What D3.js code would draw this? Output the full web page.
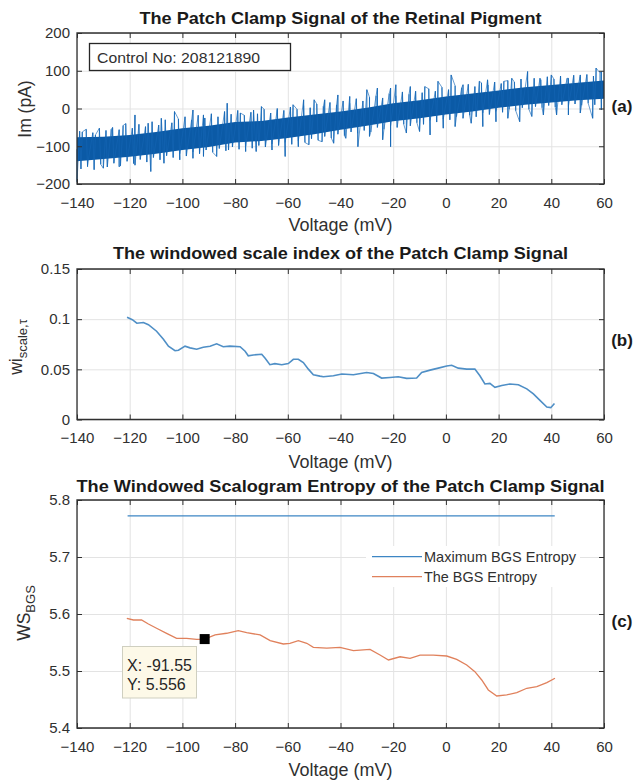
<!DOCTYPE html>
<html>
<head>
<meta charset="utf-8">
<script src="https://cdn.jsdelivr.net/npm/d3@7"></script>
<style>
  body { margin: 0; background: #fff; }
  text { font-family: "Liberation Sans", Arial, Helvetica, sans-serif; }
</style>
</head>
<body>
<script>
// Datos
const voltageTicks = [-140, -120, -100, -80, -60, -40, -20, 0, 20, 40, 60];

// (a) señal de patch clamp: banda densa y picos visibles
const coreVoltage = [-140, -130, -120, -110, -100, -90, -80, -70, -60, -50, -40, -30, -20, -10, 0, 10, 20, 30, 40, 50, 60];
const coreTop = [-76, -75, -70, -62, -52, -46, -36, -33, -24, -16, -8, 2, 14, 22, 32, 40, 48, 56, 62, 68, 74];
const coreBottom = [-140, -134, -128, -120, -110, -102, -90, -86, -78, -68, -56, -46, -34, -26, -16, -8, 2, 10, 16, 22, 26];
const upVoltage = [-138, -133, -127, -122.5, -118, -113, -108, -103, -96, -92, -83, -78, -73, -70, -64, -58, -54, -50, -46, -41, -36.5, -30, -26, -21, -19, -13.5, -8, -3, 2, 6.5, 12.7, 15.8, 22, 25, 31, 35.7, 40, 46.5, 51, 57, 59,
  -139, -136.5, -134, -131.5, -129, -126.5, -124, -121.5, -119, -116.5, -114, -111.5, -109, -106.5, -104, -101.5, -99, -96.5, -94, -91.5, -89, -86.5, -84, -81.5, -79, -76.5, -74, -71.5, -69, -66.5, -64, -61.5, -59, -56.5, -54, -51.5, -49, -46.5, -44, -41.5, -39, -36.5, -34, -31.5, -29, -26.5, -24, -21.5, -19, -16.5, -14, -11.5, -9, -6.5, -4, -1.5, 1, 3.5, 6, 8.5, 11, 13.5, 16, 18.5, 21, 23.5, 26, 28.5, 31, 33.5, 36, 38.5, 41, 43.5, 46, 48.5, 51, 53.5, 56, 58.5];
const upCurrent = [-62, -70, -55, -45, -17, -39, -26, -8, -4, -17, 14, -12, -4, 5, -4, 10, 23, 23, 23, 36, 32, 50, 54, 54, 63, 58, 58, 72, 89, 63, 72, 76, 72, 80, 98, 80, 89, 80, 89, 107, 98,
  -60, -55, -64, -52, -58, -50, -56, -40, -52, -42, -48, -35, -44, -30, -38, -28, -22, -30, -18, -25, -14, -22, -8, -15, -5, -18, -10, -14, -2, -12, 0, -5, 4, -2, 8, 2, 12, 6, 16, 10, 20, 14, 26, 20, 30, 34, 28, 40, 34, 44, 38, 46, 42, 52, 46, 56, 50, 60, 55, 64, 58, 68, 62, 70, 66, 74, 70, 78, 72, 80, 76, 84, 78, 86, 80, 88, 84, 90, 86, 94];
const downVoltage = [-140, -136, -130, -124, -118, -112, -107, -101, -96, -92, -87, -82.5, -76, -72, -66, -61, -56, -52, -47, -42.6, -38, -33.4, -29, -24, -21, -15, -10, -6, -1, 3.5, 9.6, 14, 19, 23.5, 28, 32.6, 37, 42, 46.5, 51, 55.7, 59,
  -138.5, -136, -133.5, -131, -128.5, -126, -123.5, -121, -118.5, -116, -113.5, -111, -108.5, -106, -103.5, -101, -98.5, -96, -93.5, -91, -88.5, -86, -83.5, -81, -78.5, -76, -73.5, -71, -68.5, -66, -63.5, -61, -58.5, -56, -53.5, -51, -48.5, -46, -43.5, -41, -38.5, -36, -33.5, -31, -28.5, -26, -23.5, -21, -18.5, -16, -13.5, -11, -8.5, -6, -3.5, -1, 1.5, 4, 6.5, 9, 11.5, 14, 16.5, 19, 21.5, 24, 26.5, 29, 31.5, 34, 36.5, 39, 41.5, 44, 46.5, 49, 51.5, 54, 56.5, 59];
const downCurrent = [-194, -154, -158, -154, -150, -167, -145, -136, -132, -127, -127, -110, -114, -114, -110, -127, -101, -96, -88, -92, -79, -101, -74, -83, -101, -65, -61, -70, -52, -48, -39, -48, -35, -26, -35, -21, -17, -17, -17, -12, -26, -4,
  -160, -150, -162, -148, -155, -145, -152, -140, -146, -135, -142, -130, -136, -125, -130, -120, -126, -115, -120, -110, -116, -106, -112, -102, -108, -100, -105, -98, -102, -94, -98, -90, -95, -86, -90, -80, -84, -74, -78, -68, -72, -62, -66, -58, -62, -50, -55, -46, -50, -42, -46, -38, -42, -32, -36, -28, -30, -22, -26, -18, -22, -12, -16, -8, -10, -2, -6, 2, -2, 5, 2, 8, 4, 10, 6, 12, 8, 14, 10, 16];
const imTicks = [-200, -100, 0, 100, 200];

// (b) índice de escala por ventanas
const wiVoltage = [-121, -119, -117.3, -114.8, -112.9, -109.8, -107.2, -105.3, -102.8, -101.5, -99, -97.1, -94.6, -92.1, -89.5, -87, -84.5, -82, -78.1, -76.2, -75, -73.1, -69.9, -68.6, -66.8, -64.9, -62.3, -59.8, -57.9, -56, -54.1, -52.2, -50.3, -47.8, -46.5, -42.7, -39.5, -35.1, -30.1, -27.5, -24.4, -21.2, -18.1, -14.9, -11.1, -9.2, -6, -2.9, 0.3, 2.2, 4.7, 7.9, 11, 12.9, 14.8, 16.7, 18.6, 21.2, 24.3, 27.5, 30.7, 33.2, 35.7, 38.3, 39.8, 41.2];
const wiValue = [0.102, 0.0995, 0.096, 0.0967, 0.0945, 0.088, 0.08, 0.073, 0.0685, 0.069, 0.0731, 0.0714, 0.07, 0.072, 0.073, 0.0754, 0.0725, 0.0731, 0.0725, 0.068, 0.0635, 0.0643, 0.065, 0.061, 0.0546, 0.0557, 0.0546, 0.0557, 0.06, 0.06, 0.0567, 0.0502, 0.0446, 0.0432, 0.0426, 0.0436, 0.0453, 0.0446, 0.0468, 0.0459, 0.0413, 0.0419, 0.0426, 0.041, 0.0413, 0.0468, 0.0492, 0.0512, 0.0534, 0.0541, 0.0512, 0.0502, 0.0502, 0.0436, 0.0354, 0.036, 0.0321, 0.0338, 0.0354, 0.0347, 0.0305, 0.0256, 0.019, 0.0124, 0.0118, 0.016];
const wiTicks = [0, 0.05, 0.1, 0.15];

// (c) entropía del escalograma
const bgsVoltage = [-121.1, -118.6, -115.5, -112.9, -109.8, -106, -102.2, -98.4, -94.6, -91.55, -87.6, -83.2, -78.8, -75.6, -70.5, -66.7, -61.7, -59.2, -56, -52.8, -50.3, -45.2, -40.2, -35.1, -28.8, -25, -21.8, -17.4, -13.6, -9.8, -4.8, 0.3, 4.1, 7.9, 11, 13.6, 16.1, 19.3, 23.1, 26.9, 30.7, 34.5, 38.3, 41.4];
const bgsEntropy = [5.5925, 5.5895, 5.5895, 5.5825, 5.575, 5.566, 5.5574, 5.5574, 5.5556, 5.556, 5.5632, 5.5662, 5.5708, 5.5673, 5.5632, 5.5532, 5.5474, 5.5486, 5.5532, 5.5486, 5.5416, 5.54, 5.5416, 5.5357, 5.538, 5.528, 5.5193, 5.525, 5.5223, 5.528, 5.528, 5.5263, 5.5205, 5.5106, 5.4989, 5.4842, 5.4667, 5.4562, 5.458, 5.462, 5.4697, 5.4725, 5.4796, 5.4873];
const maxVoltage = [-120.8, 41.3];
const maxEntropy = [5.772, 5.772];
const bgsTicks = [5.4, 5.5, 5.6, 5.7, 5.8];
const tipPoint = { x: -91.55, y: 5.556 };

// Constantes de la figura
const WIDTH = 637;
const HEIGHT = 782;
const LEFT = 77;
const RIGHT = 604;
const PANELS = [
  { top: 33, bottom: 184 },
  { top: 269, bottom: 419.5 },
  { top: 500, bottom: 728 },
];
const INK = "#303030";
const GRID = "#e3e3e3";

const svg = d3.select("body")
  .append("svg")
  .attr("width", WIDTH)
  .attr("height", HEIGHT);

const x = d3.scaleLinear().domain([-140, 60]).range([LEFT, RIGHT]);

// Rejilla gris de un panel
function drawGrid(p, y, yTicks) {
  const g = svg.append("g");
  g.append("g")
    .attr("transform", `translate(0, ${p.bottom})`)
    .call(d3.axisBottom(x).tickValues(voltageTicks).tickSize(-(p.bottom - p.top)).tickFormat(""))
    .call(s => s.select(".domain").remove())
    .selectAll("line").attr("stroke", GRID);
  g.append("g")
    .attr("transform", `translate(${LEFT}, 0)`)
    .call(d3.axisLeft(y).tickValues(yTicks).tickSize(-(RIGHT - LEFT)).tickFormat(""))
    .call(s => s.select(".domain").remove())
    .selectAll("line").attr("stroke", GRID);
}

// Marco, ticks hacia dentro y etiquetas de un panel
function drawBox(p, y, yTicks, fmt, gap) {
  const g = svg.append("g");
  const ax = [
    g.append("g").attr("transform", `translate(0, ${p.bottom})`)
      .call(d3.axisBottom(x).tickValues(voltageTicks).tickSize(-5).tickPadding(13)),
    g.append("g").attr("transform", `translate(0, ${p.top})`)
      .call(d3.axisTop(x).tickValues(voltageTicks).tickSize(-5).tickFormat("")),
    g.append("g").attr("transform", `translate(${LEFT}, 0)`)
      .call(d3.axisLeft(y).tickValues(yTicks).tickSize(-5).tickPadding(7).tickFormat(fmt)),
    g.append("g").attr("transform", `translate(${RIGHT}, 0)`)
      .call(d3.axisRight(y).tickValues(yTicks).tickSize(-5).tickFormat("")),
  ];
  ax.forEach(a => {
    a.select(".domain").remove();
    a.selectAll("line").attr("stroke", INK);
    a.selectAll("text").attr("fill", INK).attr("font-size", 15)
      .attr("font-family", "Liberation Sans, Arial, sans-serif");
  });
  // el marco tiene un hueco a la derecha donde va la etiqueta del panel
  const path = d3.path();
  path.moveTo(RIGHT, gap[0]);
  path.lineTo(RIGHT, p.top);
  path.lineTo(LEFT, p.top);
  path.lineTo(LEFT, p.bottom);
  path.lineTo(RIGHT, p.bottom);
  path.lineTo(RIGHT, gap[1]);
  g.append("path").attr("d", path.toString())
    .attr("fill", "none").attr("stroke", INK).attr("stroke-width", 1.3);
}

function title(txt, yPos, len) {
  svg.append("text")
    .attr("x", (LEFT + RIGHT) / 2).attr("y", yPos)
    .attr("text-anchor", "middle").attr("dominant-baseline", "central")
    .attr("font-size", 16.5).attr("font-weight", "bold").attr("fill", "#1a1a1a")
    .attr("textLength", len).attr("lengthAdjust", "spacingAndGlyphs")
    .text(txt);
}

function xLabel(yPos) {
  svg.append("text")
    .attr("x", (LEFT + RIGHT) / 2).attr("y", yPos)
    .attr("text-anchor", "middle").attr("dominant-baseline", "central")
    .attr("font-size", 17.5).attr("fill", INK)
    .attr("textLength", 104).attr("lengthAdjust", "spacingAndGlyphs")
    .text("Voltage (mV)");
}

function panelTag(txt, yPos) {
  svg.append("text")
    .attr("x", 622).attr("y", yPos)
    .attr("text-anchor", "middle").attr("dominant-baseline", "central")
    .attr("font-size", 17).attr("font-weight", "bold").attr("fill", "#1a1a1a")
    .text(txt);
}

////////////// (a) //////////////
const pA = PANELS[0];
const yA = d3.scaleLinear().domain([-200, 200]).range([pA.bottom, pA.top]);
drawGrid(pA, yA, imTicks);

const coreData = coreVoltage.map((v, i) => ({ v, top: coreTop[i], bottom: coreBottom[i] }));
// línea media de la banda, para que cada pico salga de ella
const coreMid = d3.scaleLinear()
  .domain(coreVoltage)
  .range(coreVoltage.map((v, i) => (coreTop[i] + coreBottom[i]) / 2));

const spikeData = upVoltage.map((v, i) => ({ v, c: upCurrent[i] }))
  .concat(downVoltage.map((v, i) => ({ v, c: downCurrent[i] })));

svg.append("g")
  .selectAll("line")
  .data(spikeData)
  .join("line")
  .attr("x1", d => x(d.v)).attr("x2", d => x(d.v))
  .attr("y1", d => yA(coreMid(d.v))).attr("y2", d => yA(d.c))
  .attr("stroke", "#2d7dc6")
  .attr("stroke-width", 1.1);

svg.append("path")
  .datum(coreData)
  .attr("fill", "#0b5aa6")
  .attr("d", d3.area().x(d => x(d.v)).y0(d => yA(d.bottom)).y1(d => yA(d.top)));

// trazo fino entre picos consecutivos, da la textura de la señal
svg.append("path")
  .datum(spikeData.slice().sort((a, b) => a.v - b.v))
  .attr("fill", "none")
  .attr("stroke", "#1565b3")
  .attr("stroke-width", 0.8)
  .attr("stroke-opacity", 0.8)
  .attr("d", d3.line().x(d => x(d.v)).y(d => yA(d.c)));

drawBox(pA, yA, imTicks, d3.format("d"), [yA(0) - 2, yA(100) + 2]);

// recuadro de texto
svg.append("rect")
  .attr("x", 89.5).attr("y", 43.5).attr("width", 201).attr("height", 27)
  .attr("fill", "#fff").attr("stroke", "#262626").attr("stroke-width", 1.3);
svg.append("text")
  .attr("x", 97).attr("y", 57.5).attr("dominant-baseline", "central")
  .attr("font-size", 15.5).attr("fill", INK)
  .attr("textLength", 163).attr("lengthAdjust", "spacingAndGlyphs")
  .text("Control No: 208121890");

title("The Patch Clamp Signal of the Retinal Pigment", 18, 402);
xLabel(225);
svg.append("text")
  .attr("transform", `translate(25, 109) rotate(-90)`)
  .attr("text-anchor", "middle").attr("dominant-baseline", "central")
  .attr("font-size", 17.5).attr("fill", INK)
  .text("Im (pA)");
panelTag("(a)", 106);

////////////// (b) //////////////
const pB = PANELS[1];
const yB = d3.scaleLinear().domain([0, 0.15]).range([pB.bottom, pB.top]);
drawGrid(pB, yB, wiTicks);

svg.append("path")
  .datum(wiVoltage.map((v, i) => ({ v, w: wiValue[i] })))
  .attr("fill", "none")
  .attr("stroke", "#4f8fc6")
  .attr("stroke-width", 1.6)
  .attr("d", d3.line().x(d => x(d.v)).y(d => yB(d.w)));

drawBox(pB, yB, wiTicks, d => d === 0 ? "0" : String(d), [yB(0.05) - 2, yB(0.1) + 2]);

title("The windowed scale index of the Patch Clamp Signal", 253, 455);
xLabel(462);
const lb = svg.append("text")
  .attr("transform", `translate(22, 347) rotate(-90)`)
  .attr("text-anchor", "middle")
  .attr("font-size", 17.5).attr("fill", INK);
lb.append("tspan").text("wi");
lb.append("tspan").attr("font-size", 13).attr("dy", 5).text("scale,τ");
panelTag("(b)", 340);

////////////// (c) //////////////
const pC = PANELS[2];
const yC = d3.scaleLinear().domain([5.4, 5.8]).range([pC.bottom, pC.top]);
drawGrid(pC, yC, bgsTicks);

const lineC = d3.line().x(d => x(d.v)).y(d => yC(d.e));
svg.append("path")
  .datum(maxVoltage.map((v, i) => ({ v, e: maxEntropy[i] })))
  .attr("fill", "none").attr("stroke", "#3d86c4").attr("stroke-width", 1.3)
  .attr("d", lineC);
svg.append("path")
  .datum(bgsVoltage.map((v, i) => ({ v, e: bgsEntropy[i] })))
  .attr("fill", "none").attr("stroke", "#e0815c").attr("stroke-width", 1.3)
  .attr("d", lineC);

// leyenda sin borde
const legend = svg.append("g");
legend.append("rect")
  .attr("x", 366).attr("y", 546).attr("width", 214).attr("height", 41).attr("fill", "#fff");
[["Maximum BGS Entropy", "#3d86c4", 556.7, 152], ["The BGS Entropy", "#e0815c", 576.7, 113]].forEach(([label, color, yy, len]) => {
  legend.append("line")
    .attr("x1", 372).attr("x2", 422).attr("y1", yy).attr("y2", yy)
    .attr("stroke", color).attr("stroke-width", 1.3);
  legend.append("text")
    .attr("x", 424).attr("y", yy).attr("dominant-baseline", "central")
    .attr("font-size", 15).attr("fill", INK)
    .attr("textLength", len).attr("lengthAdjust", "spacingAndGlyphs")
    .text(label);
});

// marcador y etiqueta del cursor de datos
svg.append("rect")
  .attr("x", x(tipPoint.x) - 5).attr("y", yC(tipPoint.y) - 5)
  .attr("width", 10).attr("height", 10).attr("fill", "#000");
svg.append("rect")
  .attr("x", 122.5).attr("y", 646.5).attr("width", 74).attr("height", 51.5)
  .attr("fill", "#fdf9e8").attr("stroke", "#cfcfc0");
svg.append("text")
  .attr("x", 127).attr("y", 665).attr("dominant-baseline", "central")
  .attr("font-size", 16).attr("fill", "#262626")
  .text(`X: ${tipPoint.x}`);
svg.append("text")
  .attr("x", 127).attr("y", 684.5).attr("dominant-baseline", "central")
  .attr("font-size", 16).attr("fill", "#262626")
  .text(`Y: ${tipPoint.y}`);

drawBox(pC, yC, bgsTicks, d3.format(".1f"), [yC(5.6) - 2, yC(5.7) + 2]);

title("The Windowed Scalogram Entropy of the Patch Clamp Signal", 486, 528);
xLabel(770);
const lc = svg.append("text")
  .attr("transform", `translate(30, 613) rotate(-90)`)
  .attr("text-anchor", "middle")
  .attr("font-size", 17.5).attr("fill", INK);
lc.append("tspan").text("WS");
lc.append("tspan").attr("font-size", 13).attr("dy", 5).text("BGS");
panelTag("(c)", 621);
</script>
</body>
</html>
